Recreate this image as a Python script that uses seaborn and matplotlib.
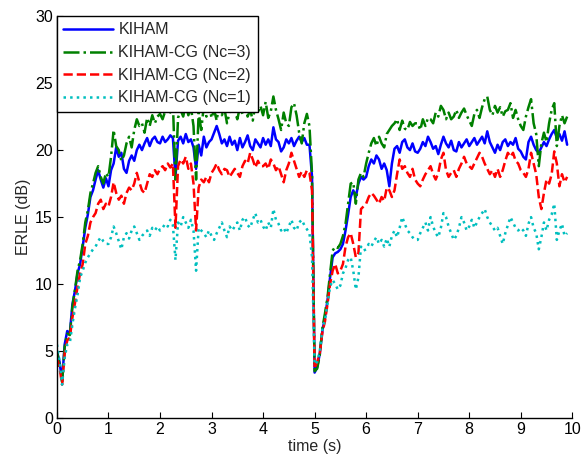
import numpy as np
import pandas as pd
import matplotlib
matplotlib.use("Agg")
import matplotlib.pyplot as plt
import seaborn as sns

# time axis (s), 0.05 s step
time_s = np.round(np.arange(199) * 0.05, 2)

kiham = [
    5.0, 4.2, 2.8, 5.5, 6.5, 6.3, 8.5, 9.5, 10.8, 11.5, 12.8, 14.2, 15.2, 16.5, 17.0, 17.8, 18.5, 17.8, 17.2, 17.9,
    17.3, 18.5, 19.0, 20.2, 19.5, 19.8, 18.6, 18.3, 19.2, 19.6, 19.2, 20.0, 20.4, 20.0, 20.5, 20.9, 20.3, 20.8, 21.0, 20.6,
    20.5, 21.0, 20.6, 20.8, 21.1, 20.9, 18.0, 20.7, 21.0, 20.5, 21.2, 20.6, 20.8, 20.2, 18.6, 20.4, 19.6, 21.0, 20.2, 20.6,
    20.8, 21.3, 21.8, 21.2, 20.5, 20.8, 20.3, 21.0, 20.4, 20.7, 20.0, 20.9, 20.2, 20.6, 21.1, 20.3, 20.0, 20.8, 20.5, 20.2,
    20.9, 20.4, 20.8, 20.3, 21.7, 20.8, 20.6, 19.9, 20.2, 20.8, 20.5, 20.9, 20.3, 20.7, 21.0, 20.6, 20.9, 20.4, 20.4, 18.0,
    3.4, 3.8, 4.8, 6.5, 7.5, 8.8, 10.5, 12.0, 12.3, 12.4, 12.6, 13.0, 14.0, 15.2, 16.5, 17.0, 16.5, 17.5, 18.0, 17.8,
    18.0, 18.8, 19.3, 19.0, 19.6, 19.3, 18.6, 19.0, 18.5, 17.3, 19.0, 20.1, 20.3, 19.8, 20.6, 20.8, 20.2, 20.0, 20.5, 19.9,
    19.8, 20.1, 20.6, 20.3, 21.0, 20.6, 20.1, 20.3, 19.7, 20.4, 21.0, 20.5, 20.2, 20.7, 20.0, 19.9, 20.6, 20.2, 20.5, 20.8,
    20.3, 20.6, 20.9, 20.4, 20.7, 21.0, 20.5, 21.4, 20.6, 20.2, 19.8, 20.4, 20.0, 20.6, 20.8, 20.3, 20.6, 20.4, 20.9, 20.1,
    19.9, 19.5, 19.3, 20.6, 21.0, 20.4, 20.0, 19.8, 20.2, 20.6, 20.3, 20.8, 21.2, 21.5, 20.9, 21.2, 20.7, 21.4, 20.4,
]

cg3 = [
    5.0, 4.0, 2.7, 5.3, 6.3, 6.2, 8.3, 9.6, 11.0, 11.8, 13.0, 14.6, 15.5, 16.8, 17.5, 18.3, 18.8, 18.0, 17.5, 18.3,
    18.0, 19.5, 21.5, 20.3, 20.0, 19.2, 19.6, 20.5, 21.0, 20.2, 21.5, 22.3, 21.8, 22.0, 21.3, 22.4, 21.8, 22.6, 22.0, 22.5,
    22.7, 22.3, 22.9, 23.3, 22.8, 23.5, 17.8, 22.4, 23.0, 22.5, 23.4, 22.6, 23.2, 21.8, 17.8, 22.8, 21.5, 23.3, 22.5, 23.5,
    22.4, 23.0, 22.2, 23.5, 22.6, 23.1, 22.0, 22.8, 23.6, 22.9, 22.3, 23.2, 22.7, 23.8, 22.5, 23.0, 22.2, 23.4, 22.8, 23.3,
    22.6, 23.6, 22.4, 22.9, 24.0, 23.0, 22.3, 21.5, 22.8, 22.0, 21.8, 23.2, 23.5, 22.6, 21.3, 20.5, 22.0, 22.7, 21.8, 18.2,
    3.5, 3.7, 4.7, 6.7, 7.8, 9.0, 10.8, 12.5, 12.8, 12.7, 13.0, 13.6, 14.5, 16.0, 17.5, 17.6, 16.0, 17.8, 18.3, 18.0,
    19.0, 19.8, 20.5, 20.9, 20.3, 21.0, 20.5, 20.2, 21.2, 21.5, 21.8, 22.0, 22.3, 21.5, 22.2, 21.6, 21.5, 22.1, 21.8, 22.0,
    22.0, 21.5, 22.3, 21.8, 22.4, 22.3, 22.0, 22.8, 22.5, 23.3, 23.0, 22.3, 22.8, 22.3, 22.5, 23.0, 22.4, 22.8, 23.1, 22.6,
    22.2, 21.8, 22.7, 23.0, 22.4, 23.2, 23.8, 24.0, 23.0, 22.6, 23.3, 22.8, 23.2, 22.5, 22.9, 23.0, 23.5, 22.4, 23.0, 22.3,
    21.8, 21.5, 22.5, 23.2, 23.8, 22.0, 21.2, 18.8, 20.5, 21.3, 20.6, 22.0, 23.0, 23.5, 20.3, 21.8, 22.6, 22.0, 22.5,
]

cg2 = [
    4.5, 3.8, 2.5, 4.8, 5.8, 6.0, 7.5, 8.6, 9.8, 10.8, 11.5, 13.0, 13.6, 14.6, 15.0, 15.3, 16.0, 16.3, 15.6, 16.0,
    15.8, 16.5, 17.6, 16.8, 16.3, 16.6, 16.0, 16.8, 17.2, 17.0, 17.5, 18.3, 17.6, 17.0, 16.8, 17.5, 18.2, 18.0, 18.5, 18.2,
    18.6, 18.8, 18.5, 19.0, 18.7, 19.0, 14.2, 18.8, 19.3, 19.0, 19.5, 18.6, 19.0, 17.5, 14.0, 17.2, 17.8, 17.6, 18.0, 17.6,
    18.3, 18.6, 19.0, 18.5, 18.2, 18.6, 18.5, 18.0, 18.3, 18.6, 18.3, 18.0, 18.8, 19.2, 19.0, 19.8, 19.3, 18.7, 19.2, 18.8,
    18.8, 19.0, 18.6, 19.3, 19.0, 18.5, 18.8, 18.2, 17.6, 18.5, 19.0, 19.8, 19.2, 18.6, 18.0, 18.4, 18.0, 18.5, 18.3, 17.0,
    3.7, 4.2, 4.8, 6.4, 7.2, 8.5, 10.0, 11.0, 11.5, 10.8, 11.0, 11.5, 12.8, 13.5, 13.8, 13.0, 12.0, 12.3, 15.6, 15.8,
    16.0, 16.5, 16.8, 16.6, 16.3, 16.0, 16.5, 16.2, 17.2, 17.0, 16.5, 17.0, 18.2, 19.3, 18.6, 18.8, 18.3, 18.0, 18.6, 17.8,
    17.5, 17.3, 17.8, 18.2, 18.5, 18.8, 18.2, 17.8, 18.3, 19.3, 19.8, 18.5, 18.0, 18.3, 18.5, 18.0, 18.6, 19.0, 19.5, 19.0,
    18.8, 18.6, 19.0, 19.4, 19.8, 19.5, 19.0, 18.6, 18.2, 18.5, 18.0, 18.6, 18.0, 18.5, 19.2, 19.8, 19.5, 19.8, 19.2, 19.0,
    18.5, 18.3, 18.0, 18.6, 19.8, 19.0, 18.2, 16.5, 15.6, 16.8, 17.8, 17.5, 18.2, 19.9, 19.0, 17.3, 18.2, 17.6, 18.0,
]

cg1 = [
    5.5, 4.3, 2.5, 4.5, 5.5, 5.6, 7.0, 8.2, 9.2, 10.5, 11.0, 11.6, 12.0, 12.3, 12.6, 12.8, 13.2, 13.5, 13.2, 13.0,
    13.0, 13.5, 14.3, 13.8, 13.2, 12.6, 13.5, 13.8, 13.4, 14.0, 14.3, 13.8, 13.3, 13.6, 13.8, 14.0, 13.6, 14.2, 14.0, 14.3,
    14.0, 14.2, 14.5, 14.3, 14.8, 14.4, 11.8, 14.6, 14.3, 15.0, 14.6, 14.2, 14.8, 14.0, 11.0, 14.2, 14.0, 13.8, 13.5, 14.0,
    13.6, 13.3, 13.8, 14.2, 14.6, 14.0, 13.5, 14.3, 14.0, 14.3, 14.6, 14.0, 14.8, 15.0, 14.4, 14.2, 14.8, 15.3, 14.6, 14.8,
    14.3, 14.0, 14.6, 14.2, 15.6, 14.8, 14.5, 14.0, 14.2, 13.8, 14.3, 14.8, 14.2, 14.0, 14.6, 14.8, 14.4, 14.1, 13.8, 12.0,
    4.0, 4.2, 5.0, 6.6, 7.3, 8.5, 9.8, 10.3, 10.0, 9.6, 9.9, 10.8, 11.2, 11.8, 12.0, 11.0, 9.6, 10.5, 12.8, 12.5,
    12.6, 13.0, 12.8, 13.2, 13.5, 13.0, 13.3, 12.8, 13.4, 12.8, 13.6, 14.0, 13.5, 14.2, 15.0, 14.5, 14.0, 13.8, 13.5, 13.3,
    13.3, 13.8, 14.2, 14.6, 14.0, 15.0, 14.3, 13.8, 13.5, 14.2, 15.3, 15.0, 14.3, 13.8, 13.3, 13.6, 14.2, 15.0, 14.6, 14.0,
    14.3, 14.8, 14.2, 14.6, 15.0, 15.3, 15.6, 15.0, 14.6, 14.3, 14.0, 14.2, 13.6, 13.0, 13.8, 14.4, 15.0, 14.6, 14.2, 14.0,
    14.2, 14.0, 13.6, 14.5, 15.0, 14.2, 13.8, 12.6, 13.5, 14.6, 14.0, 14.8, 15.2, 16.0, 13.3, 14.0, 14.5, 13.6, 13.8,
]

labels = ["KIHAM", "KIHAM-CG (Nc=3)", "KIHAM-CG (Nc=2)", "KIHAM-CG (Nc=1)"]
series = [kiham, cg3, cg2, cg1]
colors = ["#0000ff", "#008000", "#ff0000", "#00bfbf"]
styles = ["-", "-.", "--", ":"]

sns.set_theme(style="ticks")
plt.rcParams["font.family"] = ["Liberation Sans", "DejaVu Sans"]

fig = plt.figure(figsize=(5.81, 4.59), dpi=100)
ax = fig.add_axes([0.098, 0.089, 0.887, 0.876])

for lab, vals, col, ls in zip(labels, series, colors, styles):
    df = pd.DataFrame({"time": time_s, "erle": vals})
    sns.lineplot(data=df, x="time", y="erle", ax=ax, color=col, linestyle=ls,
                 linewidth=1.8, label=lab)

ax.set_xlim(0, 10)
ax.set_ylim(0, 30)
ax.set_xticks(range(0, 11))
ax.set_yticks(range(0, 31, 5))
ax.tick_params(direction="in", length=4, width=0.8, labelsize=11.5, colors="black", pad=3)
for s in ["top", "right"]:
    ax.spines[s].set_visible(False)
for s in ["left", "bottom"]:
    ax.spines[s].set_color("black")
    ax.spines[s].set_linewidth(1.0)
ax.set_xlabel("time (s)", fontsize=11.5, labelpad=1)
ax.set_ylabel("ERLE (dB)", fontsize=11.5, labelpad=3)

leg = ax.legend(loc="upper left", fancybox=False, framealpha=1, edgecolor="black",
                borderaxespad=0, fontsize=11.5, handlelength=3.1, labelspacing=0.48,
                borderpad=0.4, handletextpad=0.35)
leg.get_frame().set_linewidth(1.0)

fig.savefig("out.png", dpi=100)
